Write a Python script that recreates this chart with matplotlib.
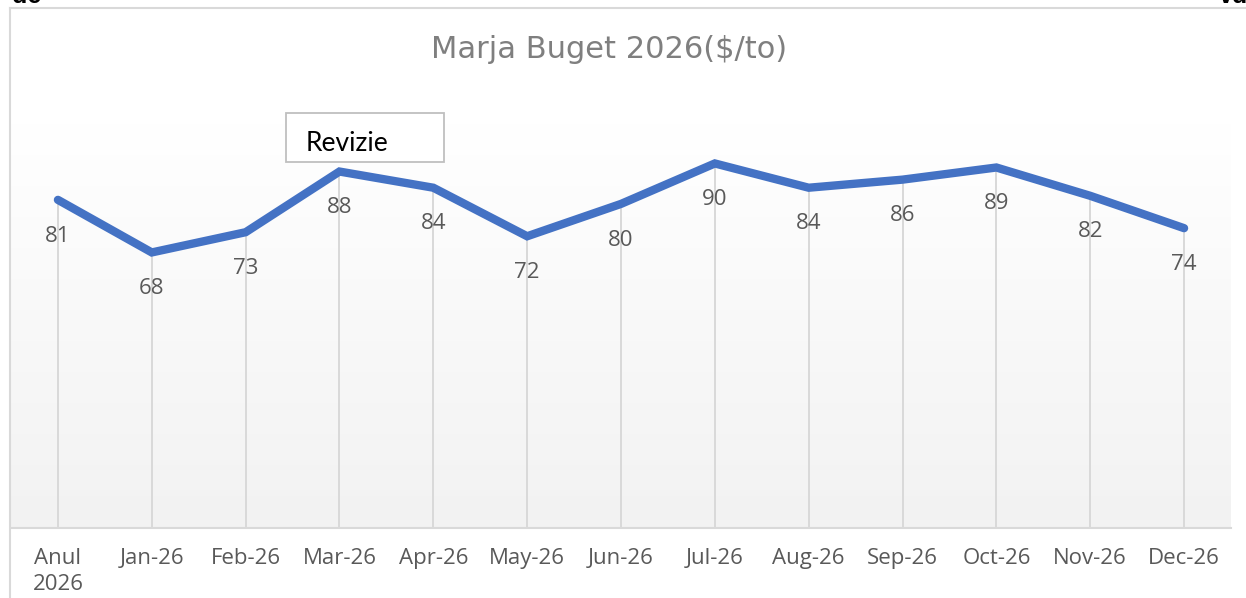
import matplotlib.pyplot as plt
import matplotlib.patches as mpatches
from matplotlib.lines import Line2D
import numpy as np

# date din grafic
luni = ['Anul\n2026', 'Jan-26', 'Feb-26', 'Mar-26', 'Apr-26', 'May-26', 'Jun-26',
        'Jul-26', 'Aug-26', 'Sep-26', 'Oct-26', 'Nov-26', 'Dec-26']
marja = [81, 68, 73, 88, 84, 72, 80, 90, 84, 86, 89, 82, 74]
titlu = 'Marja Buget 2026($/to)'
nota = 'Revizie'

W, H = 1246, 598
fig = plt.figure(figsize=(W / 100, H / 100), dpi=100)
fig.patch.set_facecolor('white')

def px(x, y):
    # pixeli (sus-stanga) -> coordonate figura
    return x / W, 1 - y / H

# zona grafic
l, t = px(11, 123)
r, b = px(1231, 527.5)
ax = fig.add_axes([l, b, r - l, t - b])
x = np.arange(len(luni))
ax.set_xlim(-0.5, len(luni) - 0.5)
ax.set_ylim(0, 100)

# fundal gradient alb -> gri deschis
grad = np.linspace(0, 1, 256).reshape(-1, 1)
c0 = np.array([1.0, 1.0, 1.0])
c1 = np.array([0xf2, 0xf2, 0xf2]) / 255.
img = c0 + (c1 - c0) * grad[..., None]
ax.imshow(img.reshape(256, 1, 3), extent=[-0.5, len(luni) - 0.5, 0, 100],
          aspect='auto', origin='upper', zorder=0)

# linii de coborare
ax.vlines(x, 0, marja, color='#d9d9d9', lw=1.4, zorder=1)
ax.plot(x, marja, color='#4472c4', lw=6, solid_capstyle='round',
        solid_joinstyle='miter', zorder=3)

for xi, v in zip(x, marja):
    ax.annotate(str(v), (xi, v), xytext=(0, -30), textcoords='offset points',
                ha='center', va='baseline', fontsize=16, color='#595959',
                family='Open Sans', zorder=4)

for s in ['top', 'right', 'left']:
    ax.spines[s].set_visible(False)
ax.spines['bottom'].set_color('#d9d9d9')
ax.spines['bottom'].set_linewidth(1.5)
ax.set_yticks([])
ax.set_xticks(x)
ax.set_xticklabels(luni, fontsize=16, color='#595959', family='Open Sans',
                   linespacing=1.3)
ax.tick_params(axis='x', length=0, pad=15)

# titlu
tx, ty = px(609, 50)
fig.text(tx, ty, titlu, ha='center', va='center', fontsize=22,
         color='#7f7f7f', family='DejaVu Sans')

# caseta Revizie
bx0, by1 = px(286, 162)
bx1, by0 = px(444, 113)
fig.patches.append(mpatches.Rectangle((bx0, by1), bx1 - bx0, by0 - by1,
                                      transform=fig.transFigure, fill=True,
                                      facecolor='white', edgecolor='#bfbfbf',
                                      lw=1.3, zorder=5))
nx, ny = px(306, 151)
fig.text(nx, ny, nota, ha='left', va='baseline', fontsize=19, color='black',
         family='Lato', zorder=6)

# chenarul graficului
fx, fy = px(10, 8)
fig.lines.append(Line2D([fx, 1], [fy, fy], transform=fig.transFigure,
                        color='#d9d9d9', lw=1.5))
fig.lines.append(Line2D([fx, fx], [0, fy], transform=fig.transFigure,
                        color='#d9d9d9', lw=1.5))

# resturi de text din document, taiate sus
fig.text(12 / W, 1 - 3 / H, 'de', ha='left', va='baseline', fontsize=18,
         color='black', family='Liberation Sans', weight='bold')
fig.text(1 + 2 / W, 1 - 3 / H, 'vd', ha='right', va='baseline', fontsize=18,
         color='black', family='Liberation Sans', weight='bold')

fig.savefig('out.png', dpi=100)
